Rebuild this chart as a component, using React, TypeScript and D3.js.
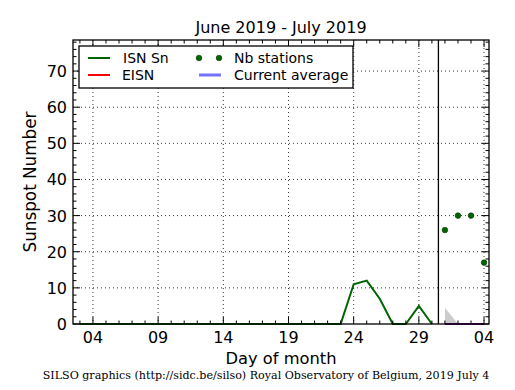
import React, { useEffect, useRef } from "react";
import * as d3 from "d3";

// day index: June 1 = 1, July 1 = 31
const isnDays = [3, 4, 5, 6, 7, 8, 9, 10, 11, 12, 13, 14, 15, 16, 17, 18, 19, 20, 21, 22, 23, 24, 25, 26, 27, 28, 29, 30];
const isnValues = [0, 0, 0, 0, 0, 0, 0, 0, 0, 0, 0, 0, 0, 0, 0, 0, 0, 0, 0, 0, 0, 11, 12, 7, 0, 0, 5, 0];

const recentDays = [31, 32, 33, 34];
const eisnValues = [0, 0, 0, 0];
const avgValues = [0, 0, 0, 0];
const bandValues = [4.5, 0, 0, 0];
const stationValues = [26, 30, 30, 17];

const xTickDays = [4, 9, 14, 19, 24, 29, 34];
const xTickLabels = ["04", "09", "14", "19", "24", "29", "04"];
const yTicks = [0, 10, 20, 30, 40, 50, 60, 70];
const monthSplit = 30.5;

export default function App() {
  const svgRef = useRef<SVGSVGElement>(null);

  useEffect(() => {
    const svg = d3.select(svgRef.current);
    svg.selectAll("*").remove();
    const font = "DejaVu Sans, sans-serif";

    const margin = { top: 40, right: 26, bottom: 66, left: 73 };
    const width = 515;
    const height = 390;
    const iw = width - margin.left - margin.right;
    const ih = height - margin.top - margin.bottom;

    const x = d3.scaleLinear().domain([2.47, 34.38]).range([0, iw]);
    const y = d3.scaleLinear().domain([0, 78.6]).range([ih, 0]);

    svg.append("rect").attr("width", width).attr("height", height).attr("fill", "white");

    const g = svg.append("g").attr("transform", `translate(${margin.left},${margin.top})`);

    // grid
    xTickDays.forEach((d) => {
      g.append("line")
        .attr("x1", x(d)).attr("x2", x(d)).attr("y1", 0).attr("y2", ih)
        .attr("stroke", "black").attr("stroke-width", 0.8).attr("stroke-dasharray", "1,3");
    });
    yTicks.slice(1).forEach((v) => {
      g.append("line")
        .attr("x1", 0).attr("x2", iw).attr("y1", y(v)).attr("y2", y(v))
        .attr("stroke", "black").attr("stroke-width", 0.8).attr("stroke-dasharray", "1,3");
    });

    // uncertainty band
    const area = d3.area<number>()
      .x((_, i) => x(recentDays[i]))
      .y0(y(0))
      .y1((d) => y(d));
    g.append("path").datum(bandValues).attr("fill", "#cccccc").attr("d", area);

    // month separator
    g.append("line")
      .attr("x1", x(monthSplit)).attr("x2", x(monthSplit)).attr("y1", 0).attr("y2", ih)
      .attr("stroke", "black").attr("stroke-width", 1.3);

    const line = d3.line<number>();

    g.append("path")
      .datum(isnValues.map((v, i) => [x(isnDays[i]), y(v)] as [number, number]))
      .attr("fill", "none").attr("stroke", "#006400").attr("stroke-width", 2)
      .attr("d", line as any);

    g.append("path")
      .datum(eisnValues.map((v, i) => [x(recentDays[i]), y(v)] as [number, number]))
      .attr("fill", "none").attr("stroke", "red").attr("stroke-width", 2)
      .attr("d", line as any);

    g.append("path")
      .datum(avgValues.map((v, i) => [x(recentDays[i]), y(v)] as [number, number]))
      .attr("fill", "none").attr("stroke", "#0000ff").attr("stroke-opacity", 0.55).attr("stroke-width", 2)
      .attr("d", line as any);

    g.selectAll("circle.st")
      .data(stationValues)
      .enter()
      .append("circle")
      .attr("cx", (_, i) => x(recentDays[i]))
      .attr("cy", (d) => y(d))
      .attr("r", 2.8)
      .attr("fill", "#006400")
      .attr("stroke", "#003300")
      .attr("stroke-width", 0.6);

    // frame
    g.append("rect")
      .attr("width", iw).attr("height", ih)
      .attr("fill", "none").attr("stroke", "black").attr("stroke-width", 1.3);

    // x ticks
    for (let d = 3; d <= 34; d++) {
      const major = xTickDays.includes(d);
      const len = major ? 7 : 3.5;
      g.append("line").attr("x1", x(d)).attr("x2", x(d)).attr("y1", ih).attr("y2", ih - len)
        .attr("stroke", "black").attr("stroke-width", 1);
      g.append("line").attr("x1", x(d)).attr("x2", x(d)).attr("y1", 0).attr("y2", len)
        .attr("stroke", "black").attr("stroke-width", 1);
    }
    xTickDays.forEach((d, i) => {
      g.append("text").attr("x", x(d)).attr("y", ih + 19)
        .attr("text-anchor", "middle").attr("font-family", font).attr("font-size", 16)
        .text(xTickLabels[i]);
    });

    // y ticks
    for (let v = 0; v <= 78; v += 2) {
      const major = v % 10 === 0;
      const len = major ? 7 : 3.5;
      g.append("line").attr("x1", 0).attr("x2", len).attr("y1", y(v)).attr("y2", y(v))
        .attr("stroke", "black").attr("stroke-width", 1);
      g.append("line").attr("x1", iw).attr("x2", iw - len).attr("y1", y(v)).attr("y2", y(v))
        .attr("stroke", "black").attr("stroke-width", 1);
    }
    yTicks.forEach((v) => {
      g.append("text").attr("x", -6).attr("y", y(v) + 6)
        .attr("text-anchor", "end").attr("font-family", font).attr("font-size", 16)
        .text(String(v));
    });

    // titles
    svg.append("text").attr("x", margin.left + iw / 2).attr("y", 33)
      .attr("text-anchor", "middle").attr("font-family", font).attr("font-size", 16)
      .text("June 2019 - July 2019");
    svg.append("text").attr("x", margin.left + iw / 2).attr("y", 364)
      .attr("text-anchor", "middle").attr("font-family", font).attr("font-size", 16.3)
      .text("Day of month");
    svg.append("text")
      .attr("transform", `translate(36,${margin.top + ih / 2}) rotate(-90)`)
      .attr("text-anchor", "middle").attr("font-family", font).attr("font-size", 16.8)
      .text("Sunspot Number");
    svg.append("text").attr("x", 266).attr("y", 379)
      .attr("text-anchor", "middle").attr("font-family", "DejaVu Serif, serif").attr("font-size", 11.1)
      .text("SILSO graphics (http://sidc.be/silso) Royal Observatory of Belgium, 2019 July 4");

    // legend
    const lg = svg.append("g").attr("transform", "translate(79,46)");
    lg.append("rect").attr("width", 274).attr("height", 42)
      .attr("fill", "white").attr("stroke", "black").attr("stroke-width", 1.3);
    const row1 = 12;
    const row2 = 29;
    lg.append("line").attr("x1", 9).attr("x2", 31).attr("y1", row1).attr("y2", row1)
      .attr("stroke", "#006400").attr("stroke-width", 2);
    lg.append("line").attr("x1", 9).attr("x2", 31).attr("y1", row2).attr("y2", row2)
      .attr("stroke", "red").attr("stroke-width", 2);
    [120, 140].forEach((cx) => {
      lg.append("circle").attr("cx", cx).attr("cy", row1).attr("r", 2.8)
        .attr("fill", "#006400").attr("stroke", "#003300").attr("stroke-width", 0.6);
    });
    lg.append("line").attr("x1", 120).attr("x2", 142).attr("y1", row2).attr("y2", row2)
      .attr("stroke", "#0000ff").attr("stroke-opacity", 0.55).attr("stroke-width", 3);
    const legendText = (tx: number, ty: number, s: string) =>
      lg.append("text").attr("x", tx).attr("y", ty + 5).attr("font-family", font).attr("font-size", 14).text(s);
    legendText(44, row1, "ISN Sn");
    legendText(43, row2, "EISN");
    legendText(155, row1, "Nb stations");
    legendText(155, row2, "Current average");
  }, []);

  return (
    <svg ref={svgRef} width={515} height={390}
      style={{ position: "absolute", left: 0, top: 0, display: "block" }} />
  );
}
